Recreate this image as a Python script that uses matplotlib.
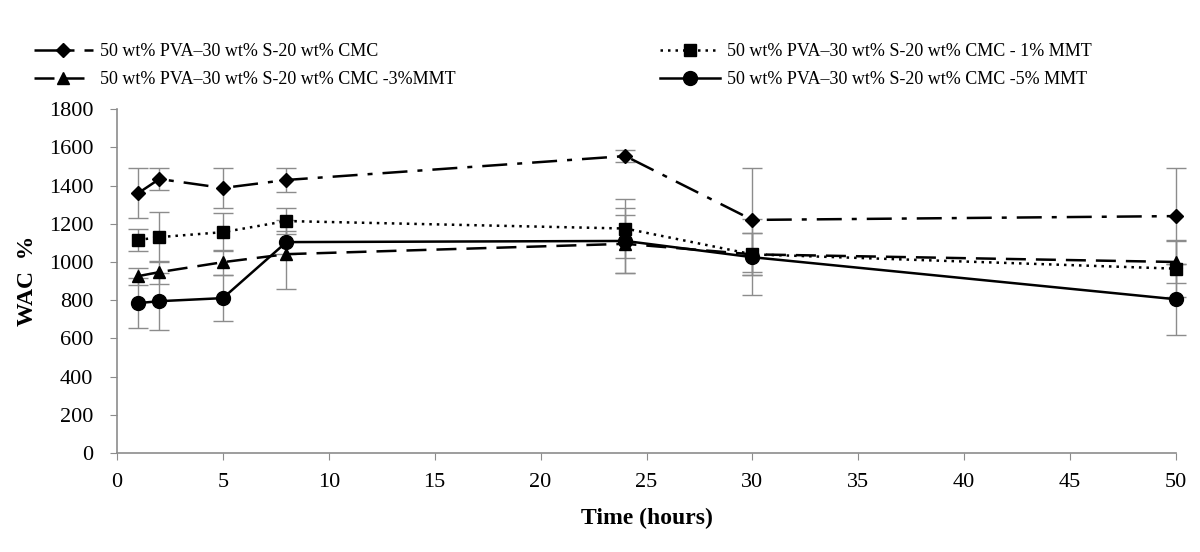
import numpy as np
import matplotlib.pyplot as plt

plt.rcParams['font.family'] = ['Liberation Serif', 'DejaVu Serif']

time_h = [1, 2, 5, 8, 24, 30, 50]

labels = [
    "50 wt% PVA–30 wt% S-20 wt% CMC",
    "50 wt% PVA–30 wt% S-20 wt% CMC - 1% MMT",
    "50 wt% PVA–30 wt% S-20 wt% CMC -3%MMT",
    "50 wt% PVA–30 wt% S-20 wt% CMC -5% MMT",
]

wac_cmc = [1360, 1434, 1387, 1429, 1554, 1220, 1240]
wac_mmt1 = [1115, 1130, 1156, 1214, 1175, 1040, 965]
wac_mmt3 = [926, 947, 999, 1041, 1095, 1040, 1000]
wac_mmt5 = [785, 795, 811, 1104, 1110, 1025, 805]

err_cmc = [130, 60, 105, 65, 30, 270, 250]
err_mmt1 = [55, 130, 100, 70, 155, 110, 150]
err_mmt3 = [45, 60, 65, 180, 150, 110, 110]
err_mmt5 = [130, 150, 120, 60, 170, 200, 185]

fig = plt.figure(figsize=(12, 5.52), dpi=100)
ax = fig.add_axes([0.0975, 0.179, 0.8825, 0.6235])

styles = [
    (wac_cmc, err_cmc, 'D', (0, (10, 4, 2, 4)), 7.5),
    (wac_mmt1, err_mmt1, 's', (0, (1, 2)), 8),
    (wac_mmt3, err_mmt3, '^', (0, (8, 4)), 8.5),
    (wac_mmt5, err_mmt5, 'o', '-', 10),
]

handles = []
for (y, e, m, ls, ms), lab in zip(styles, labels):
    eb = ax.errorbar(time_h, y, yerr=e, fmt='none', ecolor='#8c8c8c',
                     elinewidth=1, capsize=7, capthick=1, zorder=1)
    for art in eb.get_children():
        art.set_clip_on(False)
    h, = ax.plot(time_h, y, color='black', linestyle=ls, linewidth=1.8,
                 marker=m, markersize=ms, label=lab, zorder=3, clip_on=False)
    handles.append(h)

ax.set_xlim(0, 50)
ax.set_ylim(0, 1800)
ax.set_xticks(np.arange(0, 51, 5))
ax.set_yticks(np.arange(0, 1801, 200))
for s in ['top', 'right']:
    ax.spines[s].set_visible(False)
for s in ['left', 'bottom']:
    ax.spines[s].set_color('#8c8c8c')
    ax.spines[s].set_linewidth(1.2)
ax.tick_params(direction='out', color='#8c8c8c', length=5, labelsize=16,
               labelcolor='black')
ax.tick_params(axis='x', pad=9)
ax.tick_params(axis='y', pad=12)

ax.set_xlabel("Time (hours)", fontsize=17, fontweight='bold', labelpad=12)
ax.set_ylabel("WAC  %", fontsize=17, fontweight='bold', labelpad=8)

leg1 = fig.legend([handles[0], handles[2]], [labels[0], labels[2]],
                  loc='upper left', bbox_to_anchor=(0.022, 0.935), frameon=False,
                  fontsize=13, handlelength=3.3, handletextpad=0.4,
                  labelspacing=0.6, borderaxespad=0)
leg2 = fig.legend([handles[1], handles[3]], [labels[1], labels[3]],
                  loc='upper left', bbox_to_anchor=(0.544, 0.935), frameon=False,
                  fontsize=13, handlelength=3.3, handletextpad=0.4,
                  labelspacing=0.6, borderaxespad=0)

fig.savefig("out.png", dpi=100)
